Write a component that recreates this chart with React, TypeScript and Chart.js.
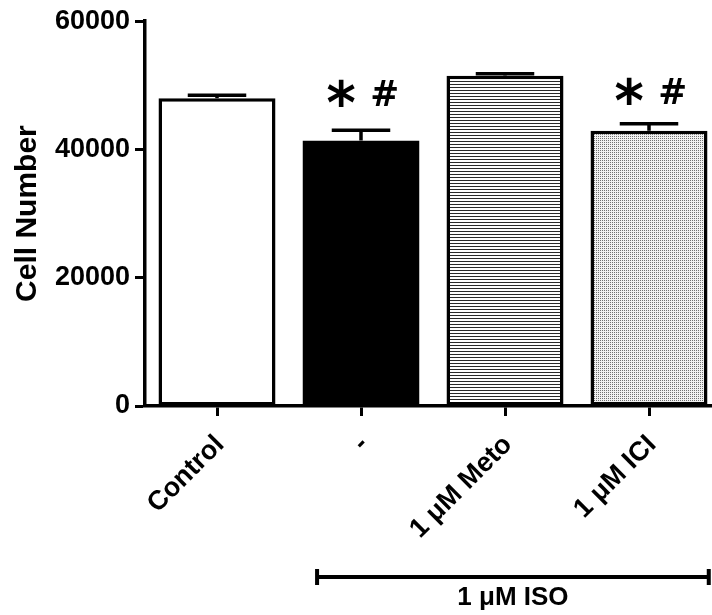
import React, { useEffect, useRef } from 'react';
import { Chart, registerables } from 'chart.js';

Chart.register(...registerables);

// ---- data ----
const categories = ['Control', '-', '1 μM Meto', '1 μM ICI'];
const means = [48000, 41400, 51500, 42900];
const sems = [450, 1600, 300, 1100];
const significance = ['', '* #', '', '* #'];
const sigLevel = [null, 48900, null, 49200];
const yTicks = [0, 20000, 40000, 60000];
const yTitle = 'Cell Number';
const groupLabel = '1 μM ISO';
const groupFrom = 1;
const groupTo = 3;

const FONT = '"Liberation Sans", Arial, sans-serif';

function linePattern(ctx: CanvasRenderingContext2D) {
  const c = document.createElement('canvas');
  c.width = 4;
  c.height = 3;
  const g = c.getContext('2d')!;
  g.fillStyle = '#ffffff';
  g.fillRect(0, 0, 4, 3);
  g.fillStyle = '#2a2a2a';
  g.fillRect(0, 0, 4, 1);
  return ctx.createPattern(c, 'repeat')!;
}

function dotPattern(ctx: CanvasRenderingContext2D) {
  const c = document.createElement('canvas');
  c.width = 2;
  c.height = 2;
  const g = c.getContext('2d')!;
  g.fillStyle = '#f0f0f0';
  g.fillRect(0, 0, 2, 2);
  g.fillStyle = '#707070';
  g.fillRect(0, 0, 1, 1);
  return ctx.createPattern(c, 'repeat')!;
}

// draw a glyph so that its ink box is w x h centred on (cx, cy)
function fitGlyph(ctx: CanvasRenderingContext2D, s: string, font: string, cx: number, cy: number, w: number, h: number) {
  ctx.save();
  ctx.font = font;
  ctx.textAlign = 'left';
  ctx.textBaseline = 'alphabetic';
  const m = ctx.measureText(s);
  const gw = m.actualBoundingBoxLeft + m.actualBoundingBoxRight;
  const gh = m.actualBoundingBoxAscent + m.actualBoundingBoxDescent;
  const sx = w / gw;
  const sy = h / gh;
  ctx.translate(cx - w / 2, cy - h / 2);
  ctx.scale(sx, sy);
  ctx.fillStyle = '#000';
  ctx.fillText(s, m.actualBoundingBoxLeft, m.actualBoundingBoxAscent);
  ctx.restore();
}

const extrasPlugin = {
  id: 'extras',
  afterDatasetsDraw(chart: any) {
    const { ctx, scales } = chart;
    const x = scales.x;
    const y = scales.y;
    const meta = chart.getDatasetMeta(0);
    ctx.save();
    ctx.strokeStyle = '#000';
    ctx.lineWidth = 3.5;
    ctx.lineCap = 'butt';
    // error bars (upper)
    meta.data.forEach((bar: any, i: number) => {
      const cx = bar.x;
      const top = y.getPixelForValue(means[i]);
      const errTop = y.getPixelForValue(means[i] + sems[i]);
      const half = bar.width * 0.25;
      ctx.beginPath();
      ctx.moveTo(cx, top);
      ctx.lineTo(cx, errTop);
      ctx.moveTo(cx - half, errTop);
      ctx.lineTo(cx + half, errTop);
      ctx.stroke();
    });
    // significance marks
    meta.data.forEach((bar: any, i: number) => {
      const lvl = sigLevel[i];
      if (lvl == null || !significance[i]) return;
      const cy = y.getPixelForValue(lvl);
      const parts = significance[i].split(' ');
      fitGlyph(ctx, parts[0], `bold 60px "DejaVu Sans", sans-serif`, bar.x - 19.5, cy, 28, 28);
      fitGlyph(ctx, parts[1], `bold 40px "DejaVu Sans", sans-serif`, bar.x + 23.5, cy, 25, 27);
    });
    // group bracket
    const step = x.getPixelForValue(1) - x.getPixelForValue(0);
    const x0 = x.getPixelForValue(groupFrom) - step * 0.305;
    const x1 = x.getPixelForValue(groupTo) + step * 0.415;
    const by = 577;
    ctx.lineWidth = 4;
    ctx.beginPath();
    ctx.moveTo(x0, by);
    ctx.lineTo(x1, by);
    ctx.stroke();
    ctx.beginPath();
    ctx.moveTo(x0, by - 8);
    ctx.lineTo(x0, by + 8);
    ctx.moveTo(x1, by - 8);
    ctx.lineTo(x1, by + 8);
    ctx.stroke();
    ctx.fillStyle = '#000';
    ctx.font = `bold 26px ${FONT}`;
    ctx.textAlign = 'center';
    ctx.textBaseline = 'alphabetic';
    ctx.fillText(groupLabel, (x0 + x1) / 2, 605);
    ctx.restore();
  },
};

export default function App() {
  const ref = useRef<HTMLCanvasElement | null>(null);
  useEffect(() => {
    const canvas = ref.current!;
    const ctx = canvas.getContext('2d')!;
    const fills = ['#ffffff', '#000000', linePattern(ctx), dotPattern(ctx)];
    const chart = new Chart(canvas, {
      type: 'bar',
      data: {
        labels: categories,
        datasets: [
          {
            data: means,
            backgroundColor: fills as any,
            borderColor: '#000',
            borderWidth: 3.5,
            borderSkipped: false,
            categoryPercentage: 1,
            barPercentage: 0.8125,
          },
        ],
      },
      options: {
        animation: false,
        responsive: true,
        maintainAspectRatio: false,
        devicePixelRatio: 1,
        layout: { padding: { top: 21, right: 19, bottom: 0, left: 0 } },
        plugins: { legend: { display: false }, tooltip: { enabled: false } },
        scales: {
          x: {
            type: 'category',
            offset: true,
            grid: {
              offset: false,
              drawOnChartArea: false,
              drawTicks: true,
              tickLength: 10,
              tickWidth: 3,
              tickColor: '#000',
              color: '#000',
            },
            border: { display: true, color: '#000', width: 3.5 },
            ticks: {
              minRotation: 45,
              maxRotation: 45,
              autoSkip: false,
              color: '#000',
              padding: 13,
              labelOffset: 3,
              font: { family: FONT, size: 27, weight: 'bold' },
            },
            afterFit: (s: any) => {
              s.height = 209;
            },
          },
          y: {
            type: 'linear',
            min: 0,
            max: 60000,
            grid: {
              drawOnChartArea: false,
              drawTicks: true,
              tickLength: 10,
              tickWidth: 3,
              tickColor: '#000',
              color: '#000',
            },
            border: { display: true, color: '#000', width: 3.5 },
            ticks: {
              color: '#000',
              padding: 5,
              font: { family: FONT, size: 27, weight: 'bold' },
              callback: (v: any) => String(v),
            },
            afterBuildTicks: (s: any) => {
              s.ticks = yTicks.map((v) => ({ value: v }));
            },
            title: {
              display: true,
              text: yTitle,
              color: '#000',
              font: { family: FONT, size: 30, weight: 'bold' },
              padding: { top: 10, bottom: 0 },
            },
            afterFit: (s: any) => {
              s.width = 145;
            },
          },
        },
      },
      plugins: [extrasPlugin],
    });
    return () => chart.destroy();
  }, []);

  return (
    <div style={{ position: 'fixed', left: 0, top: 0, width: 712, height: 615, overflow: 'hidden', background: '#fff' }}>
      <div style={{ position: 'relative', width: 740, height: 615 }}>
        <canvas ref={ref} />
      </div>
    </div>
  );
}
